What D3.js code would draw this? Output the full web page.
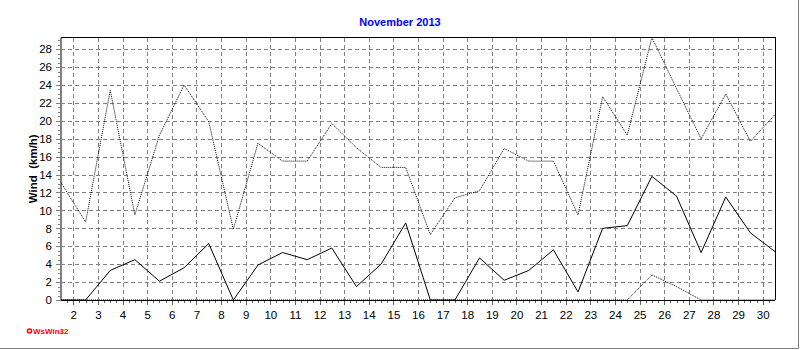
<!DOCTYPE html>
<html>
<head>
<meta charset="utf-8">
<script src="https://cdn.jsdelivr.net/npm/d3@7"></script>
<style>
  body { margin: 0; background: #fff; }
  svg { display: block; font-family: Arial, "Liberation Sans", sans-serif; }
</style>
</head>
<body>
<script>
const WIDTH = 800;
const HEIGHT = 350;

// day of month; each value is drawn at the middle of its day
const days = [1, 2, 3, 4, 5, 6, 7, 8, 9, 10, 11, 12, 13, 14, 15,
              16, 17, 18, 19, 20, 21, 22, 23, 24, 25, 26, 27, 28, 29, 30];
const gust = [13.1, 8.7, 23.4, 9.5, 18.4, 24.0, 19.9, 7.9, 17.5, 15.5,
              15.5, 19.7, 17.0, 14.8, 14.8, 7.3, 11.4, 12.2, 16.9, 15.5,
              15.5, 9.5, 22.7, 18.4, 29.3, 23.6, 18.0, 23.0, 17.7, 20.7];
const average = [0, 0, 3.3, 4.5, 2.1, 3.6, 6.3, 0, 3.9, 5.3,
                 4.5, 5.8, 1.5, 4.0, 8.6, 0, 0, 4.7, 2.2, 3.3,
                 5.6, 0.9, 8.0, 8.3, 13.8, 11.6, 5.3, 11.5, 7.5, 5.4];
const low = [0, 0, 0, 0, 0, 0, 0, 0, 0, 0,
             0, 0, 0, 0, 0, 0, 0, 0, 0, 0,
             0, 0, 0, 0, 2.8, 1.5, 0, 0, 0, 0];
const xTickLabels = [2, 3, 4, 5, 6, 7, 8, 9, 10, 11, 12, 13, 14, 15, 16,
                     17, 18, 19, 20, 21, 22, 23, 24, 25, 26, 27, 28, 29, 30];
const yTickLabels = [0, 2, 4, 6, 8, 10, 12, 14, 16, 18, 20, 22, 24, 26, 28];

const margin = { left: 61, right: 775, top: 37.5, bottom: 300 };

const x = d3.scaleLinear().domain([1.5, 30.5]).range([margin.left, margin.right]);
const y = d3.scaleLinear().domain([0, 29.3]).range([margin.bottom, margin.top]);

const svg = d3.select("body").append("svg")
    .attr("width", WIDTH)
    .attr("height", HEIGHT);

// outer frame (right and bottom edges)
svg.append("line")
    .attr("x1", WIDTH - 1.5).attr("x2", WIDTH - 1.5)
    .attr("y1", 0).attr("y2", HEIGHT - 1.5)
    .attr("stroke", "#808080");
svg.append("line")
    .attr("x1", 0).attr("x2", WIDTH - 1.5)
    .attr("y1", HEIGHT - 1.5).attr("y2", HEIGHT - 1.5)
    .attr("stroke", "#808080");

svg.append("text")
    .attr("x", 400)
    .attr("y", 26)
    .attr("text-anchor", "middle")
    .attr("font-size", 11)
    .attr("font-weight", "bold")
    .attr("fill", "#0000ff")
    .text("November 2013");

// grid
const grid = svg.append("g")
    .attr("stroke", "#808080")
    .attr("stroke-dasharray", "4,3")
    .attr("shape-rendering", "crispEdges");
grid.selectAll("line.v")
    .data(xTickLabels)
    .join("line")
    .attr("class", "v")
    .attr("x1", d => Math.round(x(d)) + 0.5).attr("x2", d => Math.round(x(d)) + 0.5)
    .attr("y1", margin.top).attr("y2", margin.bottom);
grid.selectAll("line.h")
    .data(yTickLabels.filter(d => d > 0))
    .join("line")
    .attr("class", "h")
    .attr("x1", margin.left).attr("x2", margin.right)
    .attr("y1", d => Math.round(y(d)) + 0.5).attr("y2", d => Math.round(y(d)) + 0.5);

// x axis with quarter-day minor ticks
const gx = svg.append("g")
    .attr("transform", `translate(0,${margin.bottom})`)
    .attr("shape-rendering", "crispEdges")
    .call(d3.axisBottom(x).tickValues(d3.range(1.75, 30.5, 0.25)).tickSize(3).tickFormat(""));
gx.select(".domain").remove();
gx.selectAll(".tick line").attr("stroke", "#606060");

const gxLabels = svg.append("g")
    .attr("transform", `translate(0,${margin.bottom})`)
    .call(d3.axisBottom(x).tickValues(xTickLabels).tickSize(5).tickFormat(d3.format("d")));
gxLabels.select(".domain").remove();
gxLabels.selectAll(".tick line").attr("stroke", "#606060").attr("shape-rendering", "crispEdges");
gxLabels.selectAll(".tick text")
    .attr("font-family", "Arial, 'Liberation Sans', sans-serif")
    .attr("font-size", 11.5)
    .attr("fill", "#000")
    .attr("dy", "0.95em");

// y axis with half-unit minor ticks
const gyMinor = svg.append("g")
    .attr("transform", `translate(${margin.left},0)`)
    .attr("shape-rendering", "crispEdges")
    .call(d3.axisLeft(y).tickValues(d3.range(0.5, 29.3, 0.5)).tickSize(3).tickFormat(""));
gyMinor.select(".domain").remove();
gyMinor.selectAll(".tick line").attr("stroke", "#808080");

const gy = svg.append("g")
    .attr("transform", `translate(${margin.left},0)`)
    .call(d3.axisLeft(y).tickValues(yTickLabels).tickSize(5).tickPadding(4));
gy.select(".domain").remove();
gy.selectAll(".tick line").attr("stroke", "#808080").attr("shape-rendering", "crispEdges");
gy.selectAll(".tick text")
    .attr("font-family", "Arial, 'Liberation Sans', sans-serif")
    .attr("font-size", 11.5)
    .attr("fill", "#000");

svg.append("text")
    .attr("transform", `translate(37,${(margin.top + margin.bottom) / 2}) rotate(-90)`)
    .attr("text-anchor", "middle")
    .attr("font-size", 11.5)
    .attr("font-weight", "bold")
    .style("white-space", "pre")
    .text("Wind  (km/h)");

// plot frame
const frame = svg.append("g").attr("shape-rendering", "crispEdges");
frame.append("line")
    .attr("x1", margin.left).attr("x2", margin.right + 1)
    .attr("y1", margin.top).attr("y2", margin.top)
    .attr("stroke", "#000").attr("stroke-width", 1.5);
frame.append("line")
    .attr("x1", margin.right + 0.5).attr("x2", margin.right + 0.5)
    .attr("y1", margin.top).attr("y2", margin.bottom)
    .attr("stroke", "#000").attr("stroke-width", 1.5);
frame.append("line")
    .attr("x1", margin.left).attr("x2", margin.right)
    .attr("y1", margin.bottom + 0.5).attr("y2", margin.bottom + 0.5)
    .attr("stroke", "#000").attr("stroke-width", 1.5);
frame.append("line")
    .attr("x1", margin.left - 0.5).attr("x2", margin.left - 0.5)
    .attr("y1", margin.top).attr("y2", margin.bottom + 1)
    .attr("stroke", "#808080").attr("stroke-width", 2);

// series
const line = values => d3.line()
    .x((d, i) => x(days[i] + 0.5))
    .y(d => y(d))(values);

const series = [
    { values: low, dash: "1,1" },
    { values: gust, dash: "1,1" },
    { values: average, dash: null }
];
svg.append("g")
    .attr("fill", "none")
    .attr("stroke", "#000")
    .attr("stroke-width", 1)
    .selectAll("path")
    .data(series)
    .join("path")
    .attr("d", d => line(d.values))
    .attr("stroke-dasharray", d => d.dash);

// program logo
svg.append("circle")
    .attr("cx", 29.5).attr("cy", 331)
    .attr("r", 2)
    .attr("fill", "none")
    .attr("stroke", "#ff0000")
    .attr("stroke-width", 1.5);
svg.append("text")
    .attr("x", 33)
    .attr("y", 334)
    .attr("font-size", 8)
    .attr("font-weight", "bold")
    .attr("fill", "#ff0000")
    .text("WsWin32");
</script>
</body>
</html>
